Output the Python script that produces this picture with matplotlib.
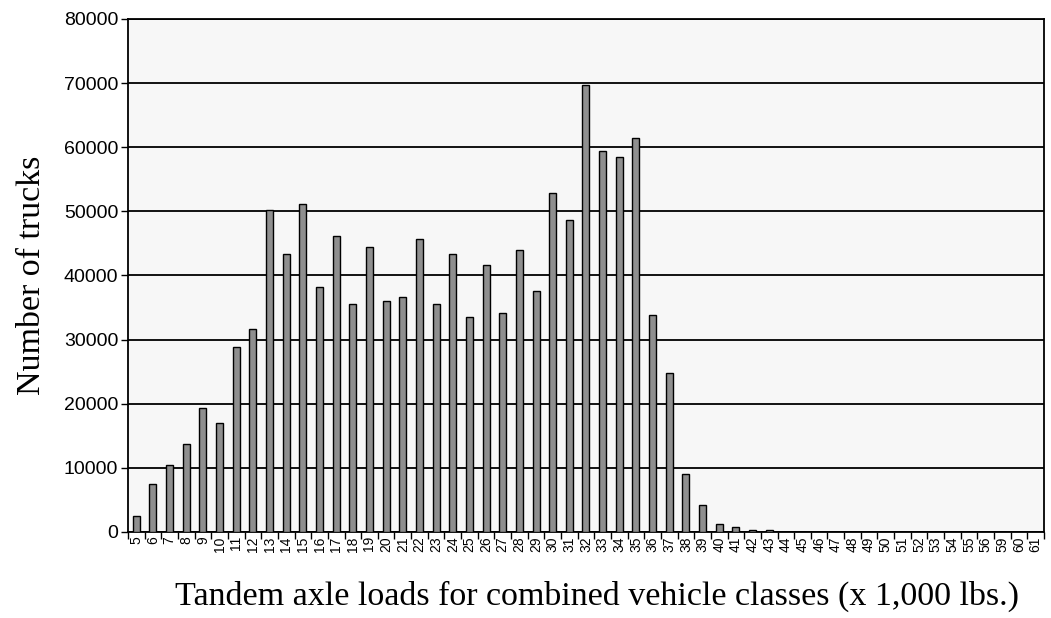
import matplotlib
matplotlib.use("Agg")
import matplotlib.pyplot as plt
import numpy as np

labels = [str(i) for i in range(5, 57)] + ["59", "60", "61"]
values = [2500, 7540, 10500, 13780, 19340, 17000, 28800, 31600, 50150, 43400,
          51150, 38150, 46100, 35570, 44370, 36080, 36610, 45620, 35570, 43380,
          33590, 41600, 34120, 43900, 37600, 52860, 48650, 69750, 59400, 58450,
          61450, 33850, 24850, 9050, 4250, 1300, 730, 260, 260] + [0] * 16

fig = plt.figure(figsize=(10.51, 6.18), dpi=100)
ax = fig.add_axes([0.1218, 0.1392, 0.9933 - 0.1218, 0.9693 - 0.1392])
ax.set_facecolor("#f7f7f7")

x = np.arange(len(labels))
ax.bar(x, values, width=0.42, color="#8f8f8f", edgecolor="black", linewidth=1.0, zorder=3)

ax.set_xlim(-0.5, len(labels) - 0.5)
ax.set_ylim(0, 80000)
ax.set_yticks(np.arange(0, 80001, 10000))
ax.yaxis.grid(True, color="black", linewidth=1.3, zorder=1)
ax.set_axisbelow(True)

ax.set_xticks(x)
ax.set_xticklabels(labels, rotation=90, fontsize=10, family="Liberation Sans")
ax.set_xticks(np.arange(-0.5, len(labels), 1.0), minor=True)
ax.tick_params(axis="x", which="major", length=0, pad=3)
ax.tick_params(axis="x", which="minor", length=5, width=1.0, direction="out")
ax.tick_params(axis="y", length=5, width=1.0, direction="out", pad=2)
for lab in ax.get_yticklabels():
    lab.set_fontsize(14)
    lab.set_family("Liberation Sans")

for s in ax.spines.values():
    s.set_linewidth(1.3)
    s.set_color("black")

ax.set_xlabel("Tandem axle loads for combined vehicle classes (x 1,000 lbs.)",
              family="Liberation Serif", fontsize=24.5, labelpad=20)
ax.xaxis.set_label_coords(0.512, -0.095, transform=ax.transAxes)
ax.xaxis.label.set_va("top")
ax.set_ylabel("Number of trucks", family="Liberation Serif", fontsize=24.5, labelpad=12)

fig.savefig("out.png", dpi=100)
